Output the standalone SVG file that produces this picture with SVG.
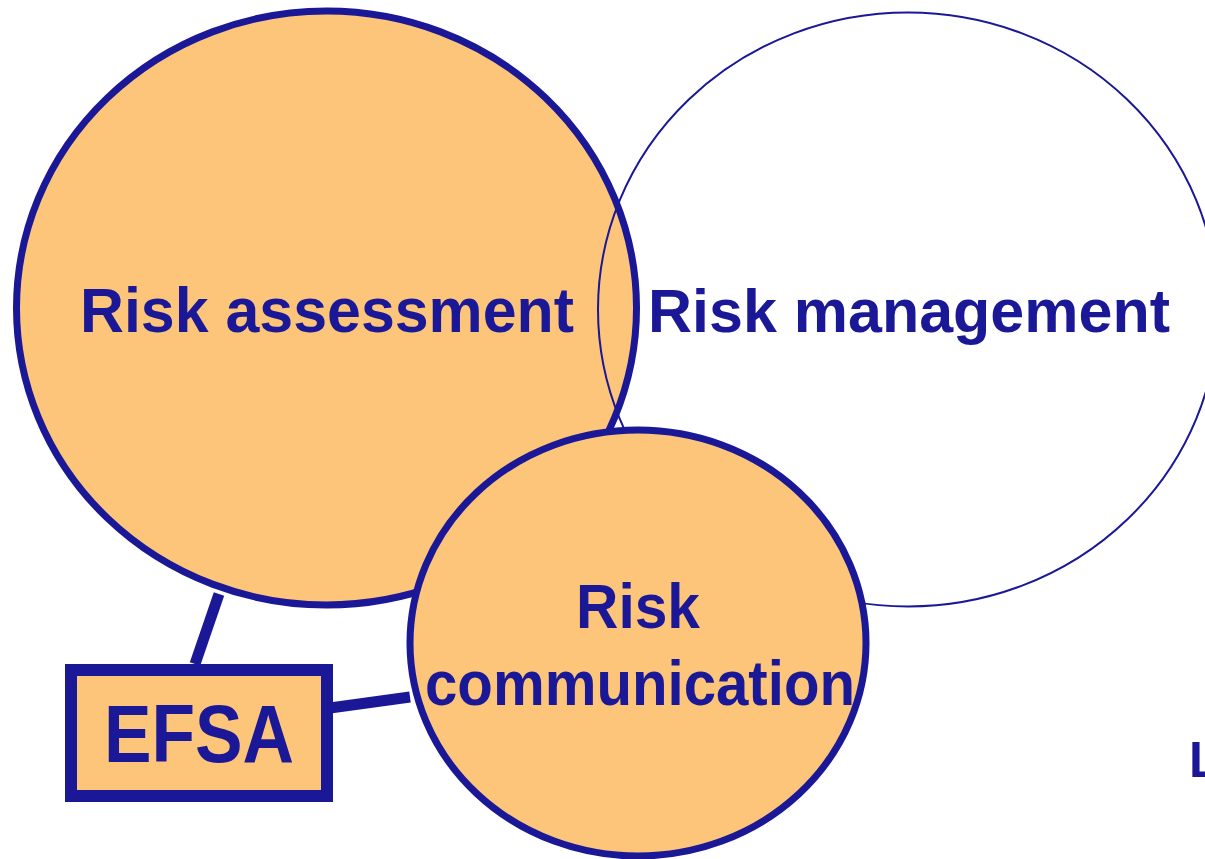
<svg xmlns="http://www.w3.org/2000/svg" width="1205" height="859" viewBox="0 0 1205 859">
  <style>
    .lbl { font-family: "Comic Sans MS", "Liberation Sans", Arial, sans-serif; font-weight: bold; fill: #1a1896; }
    .fillo { fill: #fdc57a; stroke: #1a1896; }
    .link { stroke: #1a1896; stroke-width: 11; fill: none; }
  </style>
  <rect width="1205" height="859" fill="#ffffff"/>

  <g id="risk-assessment">
    <ellipse class="fillo" cx="326.5" cy="308" rx="310" ry="297" stroke-width="7"/>
    <text class="lbl" x="327" y="332" font-size="63" text-anchor="middle" textLength="494" lengthAdjust="spacingAndGlyphs">Risk assessment</text>
  </g>

  <g id="risk-management">
    <ellipse cx="908" cy="309.5" rx="310" ry="297" fill="none" stroke="#1a1896" stroke-width="2"/>
    <text class="lbl" x="909" y="332" font-size="62" text-anchor="middle" textLength="522" lengthAdjust="spacingAndGlyphs">Risk management</text>
  </g>

  <g id="connectors">
    <line class="link" x1="219" y1="594" x2="195" y2="664"/>
    <line class="link" x1="330" y1="708" x2="410" y2="697" stroke-width="12"/>
  </g>

  <g id="risk-communication">
    <ellipse class="fillo" cx="638" cy="643" rx="228" ry="213" stroke-width="7"/>
    <text class="lbl" x="638" y="628" font-size="63" text-anchor="middle" textLength="124" lengthAdjust="spacingAndGlyphs">Risk</text>
    <text class="lbl" x="640" y="705" font-size="63" text-anchor="middle" textLength="430" lengthAdjust="spacingAndGlyphs">communication</text>
  </g>

  <g id="efsa">
    <rect class="fillo" x="71" y="670" width="256" height="126" stroke-width="12"/>
    <text class="lbl" x="199" y="762" font-size="82" text-anchor="middle" textLength="190" lengthAdjust="spacingAndGlyphs">EFSA</text>
  </g>

  <g id="edge-label">
    <text class="lbl" x="1189" y="777" font-size="50">L</text>
  </g>
</svg>
